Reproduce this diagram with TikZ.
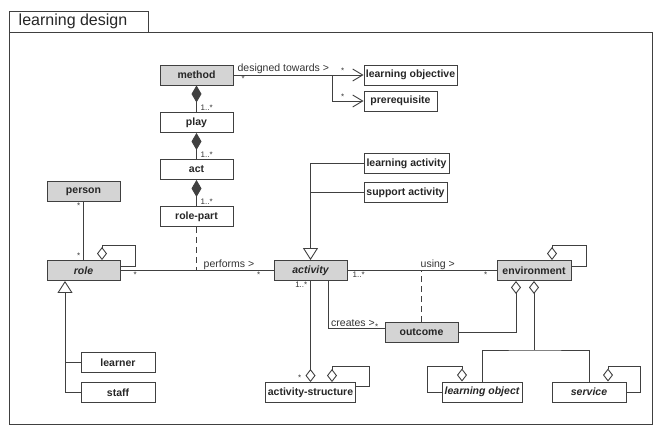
\documentclass[tikz,border=0pt]{standalone}
\usepackage{fontspec}
\setmainfont{Liberation Sans}
\usetikzlibrary{positioning, arrows.meta}

\tikzset{
  umlbox/.style={draw=black!75, line width=0.9pt, minimum height=20pt, inner sep=1pt,
    font=\fontsize{10.5}{12}\selectfont\bfseries, text=black!85},
  keybox/.style={umlbox, fill=black!17},
  abstract/.style={font=\fontsize{10.5}{12}\selectfont\bfseries\itshape},
  lnk/.style={draw=black!75, line width=0.9pt},
  comp/.style={lnk, {Diamond[length=17pt,width=10pt]}-},
  agg/.style={lnk, {Diamond[open,length=13pt,width=10pt]}-},
  gen/.style={lnk, {Triangle[open,length=12pt,width=15pt]}-},
  nav/.style={lnk, -{Straight Barb[length=10pt,width=12pt]}},
  rel/.style={font=\fontsize{10.5}{12}\selectfont, text=black!80, inner sep=1pt},
  mult/.style={font=\fontsize{8}{9}\selectfont, text=black!80, inner sep=1pt},
}

\begin{document}
\begin{tikzpicture}[x=1pt, y=-1pt]
  \useasboundingbox (0,0) rectangle (659,432);
  % frame with its tab
  \draw[lnk] (9,32) rectangle (652,424);
  \draw[lnk] (9,11) rectangle (148,32);
  \node[font=\fontsize{16}{18}\selectfont, text=black!85] (title) at (73,21.5) {learning design};

  % classes
  \node[keybox, minimum width=73pt] (method) at (196.5,75) {method};
  \node[umlbox, minimum width=73pt] (play) at (196.5,122.5) {play};
  \node[umlbox, minimum width=73pt] (act) at (196.5,169.5) {act};
  \node[umlbox, minimum width=73pt] (rolepart) at (196.5,216.5) {role-part};
  \node[umlbox, minimum width=93pt] (objective) at (410.5,75) {learning objective};
  \node[umlbox, minimum width=73pt] (prereq) at (400.5,101) {prerequisite};
  \node[umlbox, minimum width=85pt] (lact) at (406.5,163.5) {learning activity};
  \node[umlbox, minimum width=83pt] (sact) at (405.5,192.5) {support activity};
  \node[keybox, minimum width=73pt] (person) at (83.5,191.5) {person};
  \node[keybox, abstract, minimum width=73pt] (role) at (83.5,270.5) {role};
  \node[keybox, abstract, minimum width=73pt] (activity) at (310.5,270.5) {activity};
  \node[keybox, minimum width=74pt] (env) at (534,270.5) {environment};
  \node[keybox, minimum width=73pt] (outcome) at (421.5,332.5) {outcome};
  \node[umlbox, minimum width=74pt] (learner) at (118,362.5) {learner};
  \node[umlbox, minimum width=74pt] (staff) at (118,392.5) {staff};
  \node[umlbox, minimum width=90pt] (actstruct) at (310.5,392.5) {activity-structure};
  \node[umlbox, abstract, minimum width=80pt] (lobject) at (482,392) {learning object};
  \node[umlbox, abstract, minimum width=74pt] (service) at (589,392) {service};

  % method, play, act, role-part
  \draw[comp] (method) -- (play);
  \draw[comp] (play) -- (act);
  \draw[comp] (act) -- (rolepart);
  \node[mult, anchor=south west] (mplay) at ([xshift=3pt]play.north) {1..*};
  \node[mult, anchor=south west] (mact) at ([xshift=3pt]act.north) {1..*};
  \node[mult, anchor=south west] (mrolepart) at ([xshift=3pt]rolepart.north) {1..*};

  % designed towards
  \coordinate (fork) at (332,75);
  \draw[nav] (method.east) -- (objective.west);
  \draw[nav] (fork) |- (prereq.west);
  \node[rel, anchor=south west] (designed) at ([xshift=3pt]method.east) {designed towards >};
  \node[mult, anchor=north west] (mmethod) at ([xshift=7pt]method.east) {*};
  \node[mult, anchor=south east] (mobjective) at ([xshift=-18pt]objective.west) {*};
  \node[mult, anchor=south east] (mprereq) at ([xshift=-18pt]prereq.west) {*};

  % person and role
  \draw[lnk] (person) -- (role);
  \node[mult, anchor=north east] (mperson) at ([xshift=-2pt]person.south) {*};
  \node[mult, anchor=south east] (mrole) at ([xshift=-2pt]role.north) {*};
  \draw[agg] ([xshift=18.5pt]role.north) |- ++(33,-14.5) |- ([yshift=4pt]role.east);

  % learner and staff
  \coordinate (rolebase) at ([xshift=-18.5pt]role.south);
  \draw[gen] (rolebase) |- (staff.west);
  \draw[lnk] (rolebase |- learner.west) -- (learner.west);

  % kinds of activity
  \draw[gen] (activity.north) |- (lact.west);
  \draw[lnk] (activity.north |- sact.west) -- (sact.west);

  % performs
  \coordinate (perf) at (rolepart.south |- role.east);
  \draw[lnk] (role.east) -- (activity.west);
  \draw[lnk, dash pattern=on 6pt off 4pt] (rolepart.south) -- (perf);
  \node[rel, anchor=south west] (performs) at ([xshift=6pt]perf) {performs >};
  \node[mult, anchor=north west] (mroleperf) at ([xshift=12pt]role.east) {*};
  \node[mult, anchor=north east] (mactperf) at ([xshift=-12pt]activity.west) {*};

  % using
  \coordinate (usepoint) at (outcome.north |- activity.east);
  \draw[lnk] (activity.east) -- (env.west);
  \draw[lnk, dash pattern=on 6pt off 4pt] (outcome.north) -- (usepoint);
  \node[rel, anchor=south west] (using) at ([xshift=-2pt]usepoint) {using >};
  \node[mult, anchor=north west] (mactuse) at ([xshift=4pt]activity.east) {1..*};
  \node[mult, anchor=north east] (menvuse) at ([xshift=-8pt]env.west) {*};

  % creates
  \coordinate (createbase) at ([xshift=17.5pt]activity.south);
  \coordinate (createcorner) at (328,328);
  \draw[lnk] (createbase) -- (createcorner) -- (outcome.west |- createcorner);
  \node[rel, anchor=south west] (creates) at ([xshift=2pt]createcorner) {creates >};
  \node[mult, anchor=south east] (mcreates) at ([xshift=-5pt,yshift=-3pt]outcome.west |- createcorner) {*};

  % activity-structure
  \draw[agg] (actstruct) -- (activity);
  \node[mult, anchor=north east] (mactstruct) at ([xshift=-2pt]activity.south) {1..*};
  \node[mult, anchor=south east] (mstruct) at ([xshift=-8pt]actstruct.north) {*};
  \draw[agg] ([xshift=21.5pt]actstruct.north) |- ++(37.5,-16) |- ([yshift=6pt]actstruct.east);

  % environment
  \draw[agg] ([xshift=18pt]env.north) |- ++(34,-15) |- ([yshift=4pt]env.east);
  \draw[agg] ([xshift=-18pt]env.south) |- (outcome.east);
  \coordinate (envfork) at (534,350);
  \draw[agg] (env.south) -- (envfork);
  \draw[lnk] (lobject.north) |- (envfork) -| (service.north);
  \draw[agg] ([xshift=-20pt]lobject.north) |- ++(-35,-15) |- (lobject.west);
  \draw[agg] ([xshift=19pt]service.north) |- ++(32,-15) |- (service.east);
\end{tikzpicture}
\end{document}
